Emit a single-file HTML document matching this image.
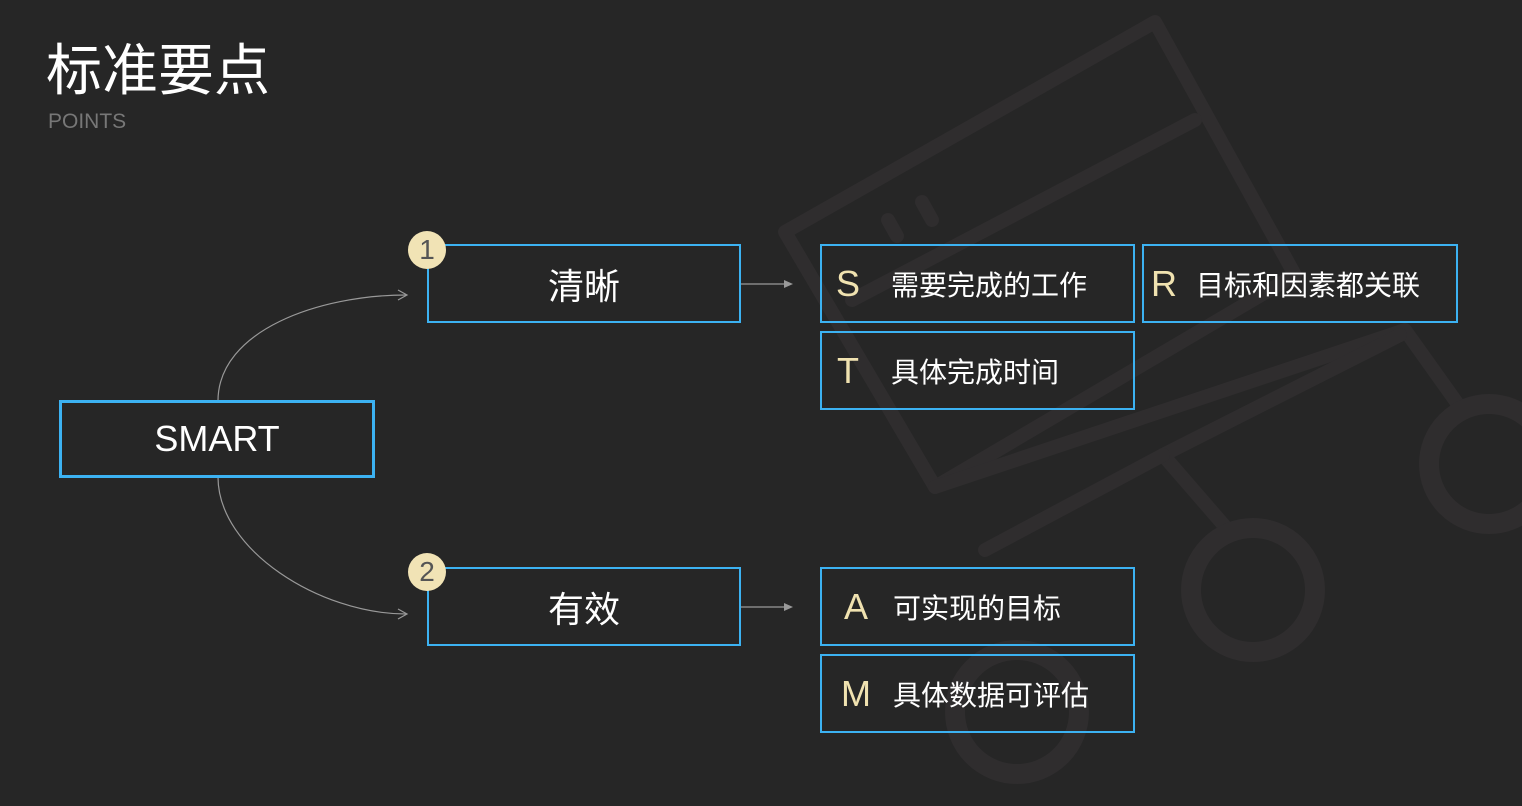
<!DOCTYPE html>
<html><head><meta charset="utf-8"><style>
body{margin:0;width:1522px;height:806px;background:#262626;overflow:hidden;position:relative;font-family:"Liberation Sans","Noto Sans CJK SC",sans-serif;color:#fff}
.b{position:absolute;box-sizing:border-box;border:2px solid #3cb2f2;display:flex;align-items:center}
.c{justify-content:center;font-size:36px}
.l{font-size:36px;color:#f0e2b0;width:40px;text-align:center;margin-left:6px;font-weight:300}
.t{font-size:28px;margin-left:23px}
.n{position:absolute;width:38px;height:38px;border-radius:50%;background:#f1e3b5;color:#555;font-size:28px;text-align:center;line-height:38px}
</style></head><body>
<svg width="1522" height="806" style="position:absolute;left:0;top:0">
<g fill="none" stroke="#2f2d2e" stroke-width="14" stroke-linejoin="round" stroke-linecap="round">
<polygon points="1155,22 785,232 935,487 1295,275"/>
<line x1="1195" y1="120" x2="852" y2="300"/>
<line x1="888" y1="220" x2="897" y2="236"/>
<line x1="922" y1="202" x2="932" y2="220"/>
<polyline points="935,487 1405,330 1462,410"/>
<polyline points="1163,455 1400,335"/>
<line x1="1163" y1="455" x2="1228" y2="530"/>
<line x1="1163" y1="455" x2="985" y2="550"/>
<circle cx="1489" cy="464" r="60" stroke-width="20"/>
<circle cx="1253" cy="590" r="62" stroke-width="20"/>
<circle cx="1017" cy="712" r="62" stroke-width="20"/>
</g>
<g fill="none" stroke="#999" stroke-width="1.2">
<path d="M218,401 C218,330 320,295 406,295"/>
<path d="M218,477 C218,550 320,614 406,614"/>
<polyline points="398,290 407,295 398,300"/>
<polyline points="398,609 407,614 398,619"/>
<line x1="741" y1="284" x2="785" y2="284"/>
<line x1="741" y1="607" x2="785" y2="607"/>
</g>
<polygon points="784,280 793,284 784,288" fill="#999"/>
<polygon points="784,603 793,607 784,611" fill="#999"/>
</svg>
<div style="position:absolute;left:46px;top:38px;font-size:56px;line-height:66px">标准要点</div>
<div style="position:absolute;left:48px;top:110px;font-size:21px;color:#777">POINTS</div>
<div class="b c" style="left:59px;top:400px;width:316px;height:78px;border-width:3px">SMART</div>
<div class="b c" style="left:427px;top:244px;width:314px;height:79px">清晰</div>
<div class="b c" style="left:427px;top:567px;width:314px;height:79px">有效</div>
<div class="n" style="left:408px;top:231px">1</div>
<div class="n" style="left:408px;top:553px">2</div>
<div class="b" style="left:820px;top:244px;width:315px;height:79px"><span class="l">S</span><span class="t">需要完成的工作</span></div>
<div class="b" style="left:1142px;top:244px;width:316px;height:79px"><span class="l" style="margin-left:0">R</span><span class="t" style="margin-left:12px">目标和因素都关联</span></div>
<div class="b" style="left:820px;top:331px;width:315px;height:79px"><span class="l">T</span><span class="t">具体完成时间</span></div>
<div class="b" style="left:820px;top:567px;width:315px;height:79px"><span class="l" style="margin-left:14px">A</span><span class="t" style="margin-left:17px">可实现的目标</span></div>
<div class="b" style="left:820px;top:654px;width:315px;height:79px"><span class="l" style="margin-left:14px">M</span><span class="t" style="margin-left:17px">具体数据可评估</span></div>
</body></html>
